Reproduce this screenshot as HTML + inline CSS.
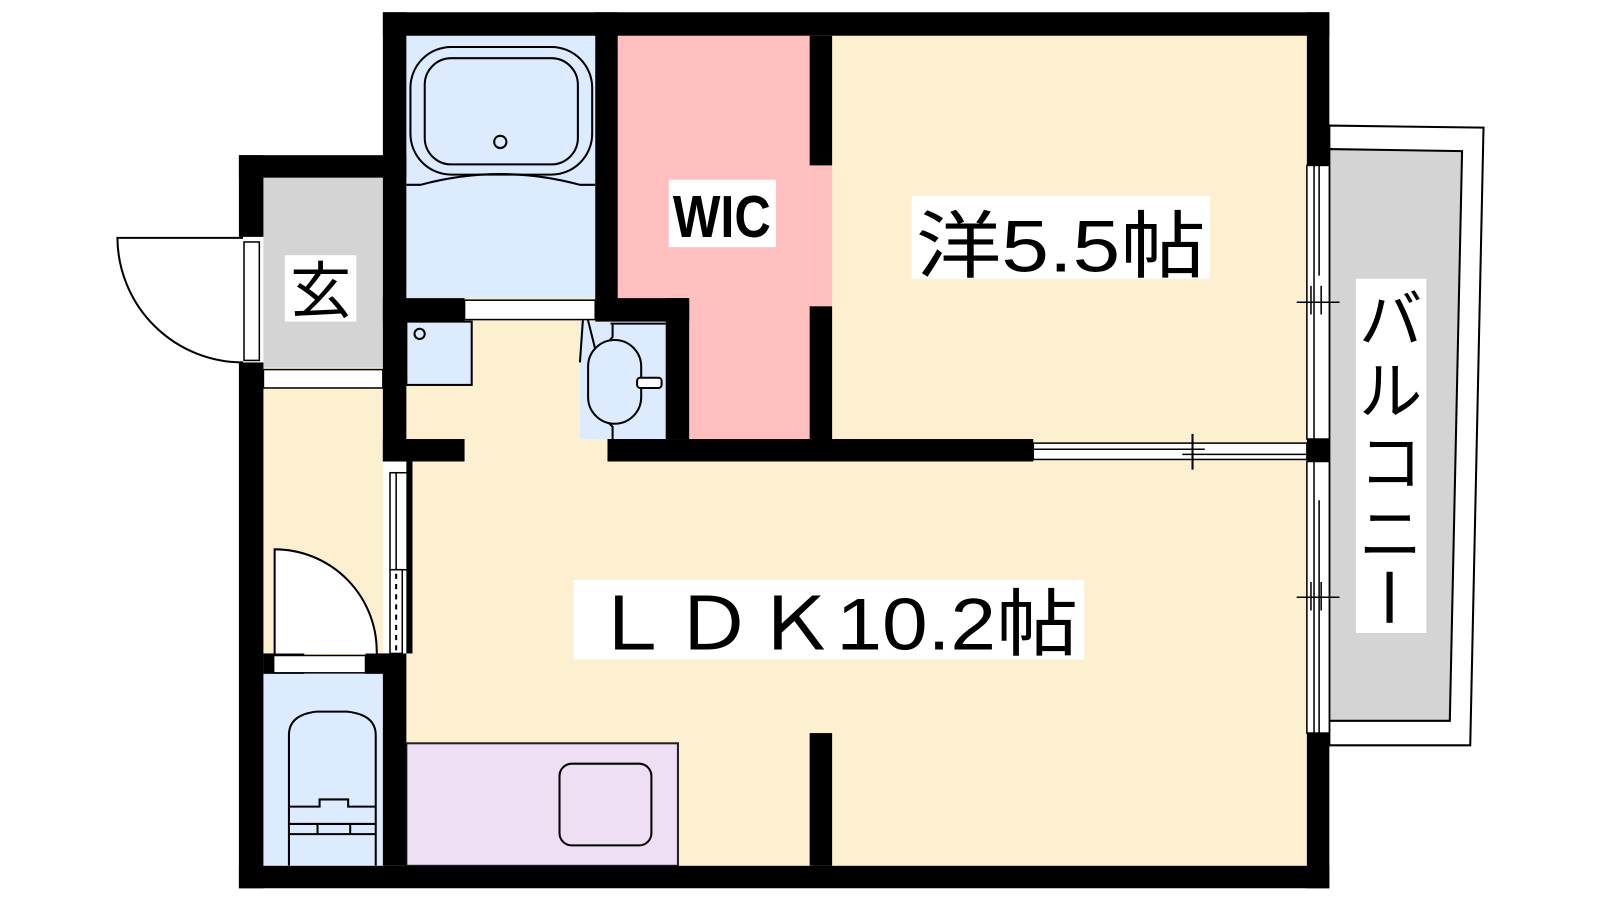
<!DOCTYPE html>
<html><head><meta charset="utf-8"><style>
html,body{margin:0;padding:0;background:#fff;width:1600px;height:900px;overflow:hidden}
svg{display:block}
text{font-family:"Liberation Sans","Noto Sans CJK JP",sans-serif;fill:#000}
</style></head><body>
<svg width="1600" height="900" viewBox="0 0 1600 900" xmlns="http://www.w3.org/2000/svg">
<g transform="scale(1.021)">
<!-- balcony -->
<polygon points="1302,123 1453,125 1440,730 1302,730" fill="#fff" stroke="#000" stroke-width="2"/>
<polygon points="1302,146 1432,148 1420,706 1302,706" fill="#d4d4d4" stroke="#000" stroke-width="2"/>
<!-- room fills -->
<rect x="398" y="35" width="882" height="813" fill="#fdf0d0"/>
<rect x="258" y="174" width="117" height="674" fill="#fdf0d0"/>
<rect x="258" y="174" width="117" height="186" fill="#d4d4d4"/>
<rect x="398" y="35" width="185" height="257" fill="#dcebfe"/>
<rect x="605" y="35" width="188" height="257" fill="#ffbfbf"/>
<rect x="675" y="292" width="118" height="138" fill="#ffbfbf"/>
<rect x="793" y="162" width="22" height="138" fill="#ffbfbf"/>
<rect x="568" y="315" width="84" height="115" fill="#dcebfe"/>
<rect x="398" y="315" width="64" height="62" fill="#dcebfe" stroke="#000" stroke-width="2"/>
<circle cx="411" cy="327" r="5" fill="none" stroke="#000" stroke-width="2"/>
<rect x="258" y="660" width="117" height="188" fill="#dcebfe"/>
<rect x="398" y="728" width="266" height="120" fill="#eedff5" stroke="#222" stroke-width="2"/>
<rect x="548" y="748" width="90" height="80" rx="12" fill="none" stroke="#000" stroke-width="2"/>
<!-- bath tub -->
<rect x="402" y="46" width="178" height="125" rx="40" fill="none" stroke="#000" stroke-width="2"/>
<rect x="416" y="57" width="150" height="104" rx="26" fill="none" stroke="#000" stroke-width="2"/>
<circle cx="490" cy="139" r="6" fill="none" stroke="#000" stroke-width="2"/>
<path d="M398,181 H412 Q490,160 568,181 H583" fill="none" stroke="#000" stroke-width="2"/>
<path d="M568,355 L572,298 L583,342" fill="none" stroke="#000" stroke-width="2"/>
<!-- washbasin -->
<path d="M600,318 V330 Q585,345 585,375 Q585,405 600,418 V432" fill="none" stroke="#000" stroke-width="2"/>
<rect x="576" y="333" width="52" height="82" rx="26" fill="#dcebfe" stroke="#000" stroke-width="2"/>
<rect x="624" y="370" width="24" height="10" rx="3" fill="#fff" stroke="#000" stroke-width="2"/>
<line x1="598" y1="317" x2="652" y2="317" stroke="#000" stroke-width="2"/>
<!-- toilet -->
<path d="M283,848 V720 Q283,700 310,697 H340 Q368,700 368,720 V848" fill="none" stroke="#000" stroke-width="2"/>
<path d="M283,790 H313 V783 H341 V790 H368 M283,807 H368 M311,807 V817 M343,807 V817 M283,817 H368" fill="none" stroke="#000" stroke-width="2"/>
<!-- walls -->
<g fill="#000">
<rect x="375" y="12" width="927" height="23"/>
<rect x="1280" y="12" width="22" height="150"/>
<rect x="1280" y="430" width="22" height="22"/>
<rect x="1280" y="718" width="22" height="152"/>
<rect x="234" y="848" width="1068" height="22"/>
<rect x="375" y="12" width="23" height="440"/>
<rect x="375" y="640" width="23" height="208"/>
<rect x="234" y="152" width="164" height="22"/>
<rect x="234" y="152" width="24" height="80"/>
<rect x="234" y="355" width="24" height="515"/>
<rect x="583" y="12" width="22" height="292"/>
<rect x="375" y="292" width="80" height="23"/>
<rect x="583" y="292" width="92" height="23"/>
<rect x="652" y="292" width="23" height="138"/>
<rect x="793" y="35" width="22" height="127"/>
<rect x="793" y="300" width="22" height="152"/>
<rect x="595" y="430" width="417" height="22"/>
<rect x="375" y="430" width="80" height="22"/>
<rect x="793" y="718" width="22" height="130"/>
<rect x="258" y="640" width="40" height="20"/>
<rect x="358" y="640" width="20" height="20"/>
</g>
<!-- openings -->
<rect x="455" y="294" width="128" height="19" fill="#fff" stroke="#000" stroke-width="1.5"/>
<rect x="258" y="362" width="117" height="18" fill="#fff" stroke="#000" stroke-width="1.5"/>
<rect x="268" y="642" width="90" height="17" fill="#fff" stroke="#000" stroke-width="1.5"/>
<rect x="239" y="237" width="15" height="116" fill="#fff" stroke="#000" stroke-width="1.5"/>
<path d="M238,233 H115 A123,123 0 0 0 238,355" fill="#fff" stroke="#000" stroke-width="2"/>
<path d="M269,640 V538 A100,100 0 0 1 369,640" fill="#fff" stroke="#000" stroke-width="2"/>
<rect x="382" y="463" width="20" height="95" fill="#fff" stroke="#000" stroke-width="1.5"/>
<line x1="388" y1="463" x2="388" y2="558" stroke="#000" stroke-width="1.5"/>
<rect x="382" y="558" width="12" height="82" fill="#fff" stroke="#000" stroke-width="1.5"/>
<line x1="388" y1="562" x2="388" y2="638" stroke="#000" stroke-width="2" stroke-dasharray="5,5"/>
<rect x="398" y="452" width="6" height="188" fill="#000"/>
<!-- sliding door -->
<rect x="1012" y="434" width="268" height="16" fill="#fff" stroke="#000" stroke-width="1.5"/>
<line x1="1012" y1="440" x2="1180" y2="440" stroke="#000" stroke-width="1.5"/>
<line x1="1158" y1="445" x2="1280" y2="445" stroke="#000" stroke-width="1.5"/>
<line x1="1168" y1="425" x2="1168" y2="460" stroke="#000" stroke-width="2"/>
<!-- balcony windows -->
<rect x="1280" y="162" width="22" height="268" fill="#fff" stroke="#000" stroke-width="1.5"/>
<rect x="1280" y="452" width="22" height="266" fill="#fff" stroke="#000" stroke-width="1.5"/>
<line x1="1287" y1="162" x2="1287" y2="430" stroke="#000" stroke-width="1.5"/>
<line x1="1292" y1="162" x2="1292" y2="270" stroke="#000" stroke-width="1.5"/>
<line x1="1287" y1="452" x2="1287" y2="718" stroke="#000" stroke-width="1.5"/>
<line x1="1292" y1="490" x2="1292" y2="718" stroke="#000" stroke-width="1.5"/>
<path d="M1270,296 H1312 M1284,280 V308 M1294,280 V308 M1270,585 H1312 M1284,570 V598 M1294,570 V598" stroke="#000" stroke-width="1.5"/>
<!-- labels -->
<rect x="279" y="250" width="70" height="65" fill="#fff"/>
<text x="314" y="306" font-size="60" text-anchor="middle">玄</text>
<rect x="655" y="176" width="105" height="66" fill="#fff"/>
<text x="707" y="232" font-size="58" font-weight="bold" text-anchor="middle" textLength="96" lengthAdjust="spacingAndGlyphs">WIC</text>
<rect x="893" y="192" width="292" height="81" fill="#fff"/>
<text x="897" y="266" font-size="72" textLength="284" lengthAdjust="spacingAndGlyphs">洋5.5帖</text>
<rect x="562" y="568" width="500" height="78" fill="#fff"/>
<text x="578" y="636" font-size="72" textLength="478" lengthAdjust="spacingAndGlyphs">ＬＤＫ10.2帖</text>
<rect x="1328" y="273" width="69" height="347" fill="#fff"/>
<text x="1362" y="335" font-size="62" text-anchor="middle">バ</text>
<text x="1362" y="405" font-size="62" text-anchor="middle">ル</text>
<text x="1362" y="475" font-size="62" text-anchor="middle">コ</text>
<text x="1362" y="545" font-size="62" text-anchor="middle">ニ</text>
<rect x="1358" y="560" width="6" height="50" fill="#000"/>
</g>
</svg>
</body></html>
